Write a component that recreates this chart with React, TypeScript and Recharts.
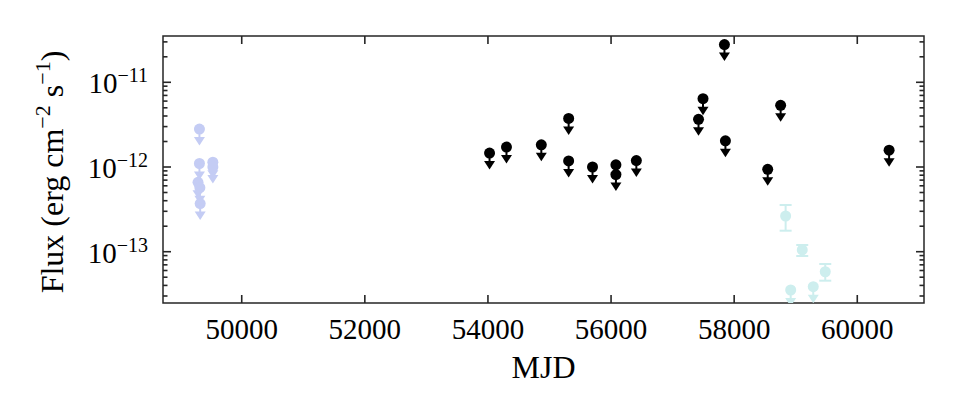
import React from 'react';
import { ScatterChart, Scatter, XAxis, YAxis, ErrorBar, ReferenceArea } from 'recharts';

const FONT = "'Liberation Serif', 'DejaVu Serif', serif";
const FRAME = '#262626';

// plot frame in page pixels
const LEFT = 163;
const RIGHT = 924;
const TOP = 36;
const BOTTOM = 303;

// early survey upper limits (lavender)
const earlyMjd = [49313, 49313, 49290, 49320, 49325, 49531, 49531];
const earlyFlux = [2.8e-12, 1.1e-12, 6.6e-13, 5.7e-13, 3.7e-13, 1.14e-12, 1.0e-12];

// upper limits (black)
const ulMjd = [54026, 54301, 54867, 55311, 55311, 55699, 56079, 56079, 56411, 57421, 57494, 57842, 57858, 58545, 58755, 60517];
const ulFlux = [1.46e-12, 1.72e-12, 1.83e-12, 3.75e-12, 1.18e-12, 1.0e-12, 1.06e-12, 8.15e-13, 1.19e-12, 3.65e-12, 6.41e-12, 2.79e-11, 2.04e-12, 9.4e-13, 5.34e-12, 1.58e-12];

// recent detections with error bars (pale cyan)
const detMjd = [58836, 59106, 59480];
const detFlux = [2.64e-13, 1.05e-13, 5.8e-14];
const detLow = [1.77e-13, 8.9e-14, 4.55e-14];
const detHigh = [3.56e-13, 1.2e-13, 7.16e-14];

// recent upper limits (pale cyan)
const recentMjd = [58918, 59285];
const recentFlux = [3.53e-14, 3.86e-14];

const xTicks = [50000, 52000, 54000, 56000, 58000, 60000];
const yMajorTicks = [1e-13, 1e-12, 1e-11];
const yMinorTicks = [
  3e-14, 4e-14, 5e-14, 6e-14, 7e-14, 8e-14, 9e-14,
  2e-13, 3e-13, 4e-13, 5e-13, 6e-13, 7e-13, 8e-13, 9e-13,
  2e-12, 3e-12, 4e-12, 5e-12, 6e-12, 7e-12, 8e-12, 9e-12,
  2e-11, 3e-11,
];

const X_DOMAIN = [48721, 61084];
const Y_DOMAIN = [2.48e-14, 3.52e-11];

const early = earlyMjd.map((m, i) => ({ mjd: m, flux: earlyFlux[i] }));
const limits = ulMjd.map((m, i) => ({ mjd: m, flux: ulFlux[i] }));
const detections = detMjd.map((m, i) => ({
  mjd: m,
  flux: detFlux[i],
  err: [detFlux[i] - detLow[i], detHigh[i] - detFlux[i]],
}));
const recent = recentMjd.map((m, i) => ({ mjd: m, flux: recentFlux[i] }));

// tick anchors on the frame edges, placed through the chart scales
const bottomTicks = xTicks.map((v) => ({ mjd: v, flux: Y_DOMAIN[0] }));
const topTicks = xTicks.map((v) => ({ mjd: v, flux: Y_DOMAIN[1] }));
const yTickRows = [
  ...yMajorTicks.map((v) => ({ flux: v, major: true })),
  ...yMinorTicks.map((v) => ({ flux: v, major: false })),
];
const leftTicks = yTickRows.map((t) => ({ ...t, mjd: X_DOMAIN[0] }));
const rightTicks = yTickRows.map((t) => ({ ...t, mjd: X_DOMAIN[1] }));

// circle with a downward arrow, like matplotlib uplims
const upperLimit = (color: string) => (props: any) => {
  const { cx, cy } = props;
  return (
    <g>
      <line x1={cx} y1={cy} x2={cx} y2={cy + 9} stroke={color} strokeWidth={2} />
      <path d={`M${cx - 5.5},${cy + 8} L${cx + 5.5},${cy + 8} L${cx},${cy + 16.5} Z`} fill={color} />
      <circle cx={cx} cy={cy} r={5.5} fill={color} />
    </g>
  );
};

const dot = (color: string) => (props: any) => (
  <circle cx={props.cx} cy={props.cy} r={5.5} fill={color} />
);

// inward tick marks: dir is the direction the tick points into the plot
const tickMark = (dir: 'up' | 'down' | 'right' | 'left') => (props: any) => {
  const { cx, cy, payload } = props;
  const len = payload && payload.major === false ? 4.5 : 8;
  const dx = dir === 'right' ? len : dir === 'left' ? -len : 0;
  const dy = dir === 'down' ? len : dir === 'up' ? -len : 0;
  return <line x1={cx} y1={cy} x2={cx + dx} y2={cy + dy} stroke={FRAME} strokeWidth={1.6} />;
};

function XTick({ x, payload }: any) {
  return (
    <text x={x} y={BOTTOM + 36} textAnchor="middle" fontFamily={FONT} fontSize={29} fill="#000">
      {payload.value}
    </text>
  );
}

function YTick({ y, payload }: any) {
  const exp = Math.round(Math.log10(payload.value));
  return (
    <text x={LEFT - 15} y={y + 11} textAnchor="end" fontFamily={FONT} fontSize={29} fill="#000">
      <tspan>10</tspan>
      <tspan dy={-11} fontSize={20}>{`\u2212${Math.abs(exp)}`}</tspan>
    </text>
  );
}

// axis titles drawn over the chart
function Titles() {
  return (
    <svg width={960} height={420} style={{ position: 'absolute', left: 0, top: 0, pointerEvents: 'none' }}>
      <text transform="translate(63,172) rotate(-90)" textAnchor="middle" fontFamily={FONT} fontSize={32} fill="#000">
        <tspan>Flux (erg cm</tspan>
        <tspan dy={-13} fontSize={22}>{'\u22122'}</tspan>
        <tspan dy={13}> s</tspan>
        <tspan dy={-13} fontSize={22}>{'\u22121'}</tspan>
        <tspan dy={13}>)</tspan>
      </text>
      <text x={(LEFT + RIGHT) / 2} y={378} textAnchor="middle" fontFamily={FONT} fontSize={32} fill="#000">
        MJD
      </text>
    </svg>
  );
}

export default function App() {
  return (
    <div style={{ position: 'absolute', left: 0, top: 0, width: 960, height: 420, background: '#fff' }}>
      <ScatterChart width={960} height={420} margin={{ top: TOP, right: 960 - RIGHT, bottom: 0, left: 0 }}>
        <XAxis
          xAxisId="x"
          dataKey="mjd"
          type="number"
          domain={X_DOMAIN}
          ticks={xTicks}
          allowDataOverflow
          height={420 - BOTTOM}
          tickLine={false}
          axisLine={false}
          tick={<XTick />}
          interval={0}
        />
        <YAxis
          yAxisId="y"
          dataKey="flux"
          type="number"
          scale="log"
          domain={Y_DOMAIN}
          ticks={yMajorTicks}
          allowDataOverflow
          width={LEFT}
          tickLine={false}
          axisLine={false}
          tick={<YTick />}
          interval={0}
        />

        <ReferenceArea xAxisId="x" yAxisId="y" x1={X_DOMAIN[0]} x2={X_DOMAIN[1]} y1={Y_DOMAIN[0]} y2={Y_DOMAIN[1]}
          fill="none" stroke={FRAME} strokeWidth={1.5} fillOpacity={0} />

        <Scatter xAxisId="x" yAxisId="y" data={early} dataKey="flux" fill="#c4ccf4"
          shape={upperLimit('#c4ccf4')} isAnimationActive={false} />
        <Scatter xAxisId="x" yAxisId="y" data={limits} dataKey="flux" fill="#000"
          shape={upperLimit('#000')} isAnimationActive={false} />
        <Scatter xAxisId="x" yAxisId="y" data={recent} dataKey="flux" fill="#cdeeee"
          shape={upperLimit('#cdeeee')} isAnimationActive={false} />
        <Scatter xAxisId="x" yAxisId="y" data={detections} dataKey="flux" fill="#cdeeee"
          shape={dot('#cdeeee')} isAnimationActive={false}>
          <ErrorBar dataKey="err" direction="y" width={6} stroke="#cdeeee" strokeWidth={2} isAnimationActive={false} />
        </Scatter>

        <Scatter xAxisId="x" yAxisId="y" data={bottomTicks} dataKey="flux" shape={tickMark('up')} isAnimationActive={false} />
        <Scatter xAxisId="x" yAxisId="y" data={topTicks} dataKey="flux" shape={tickMark('down')} isAnimationActive={false} />
        <Scatter xAxisId="x" yAxisId="y" data={leftTicks} dataKey="flux" shape={tickMark('right')} isAnimationActive={false} />
        <Scatter xAxisId="x" yAxisId="y" data={rightTicks} dataKey="flux" shape={tickMark('left')} isAnimationActive={false} />
      </ScatterChart>
      <Titles />
    </div>
  );
}
